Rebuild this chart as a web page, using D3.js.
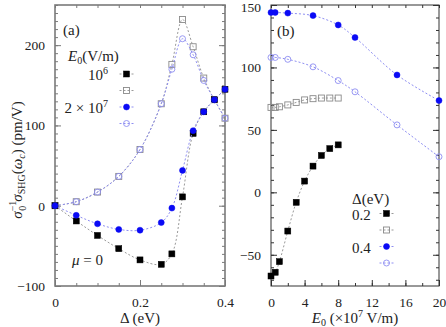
<!DOCTYPE html>
<html>
<head>
<meta charset="utf-8">
<script src="https://cdn.jsdelivr.net/npm/d3@7"></script>
<style>
  body { margin: 0; background: #fff; }
  text { font-family: "Liberation Serif", "DejaVu Serif", serif; fill: #222; }
</style>
</head>
<body>
<svg width="446" height="327"></svg>
<script>
// panel (a): vs gap Delta (eV)
const deltaA = [0, 0.05, 0.1, 0.15, 0.2, 0.25, 0.275, 0.3, 0.325, 0.35, 0.375, 0.4];
const e6Fill = [0, -19, -37, -53.5, -67.5, -73, -60, 11, 90, 117, 132, 145];
const e6Open = [0, 5, 17, 36.5, 70, 127, 176, 232, 198, 159, 132, 109];
const e7Fill = [0, -12, -22.5, -29.5, -30.5, -21, -3, 44, 93.5, 117, 132, 145];
const e7Open = [0, 5, 17, 36.5, 70, 127, 170, 208, 188, 156, 132, 109];

// panel (b): vs field E0 (x10^7 V/m)
const fieldB2 = [0, 0.5, 1, 2, 3, 4, 5, 6, 7, 8];
const d2Fill = [-67, -64, -55.5, -31, -8, 9, 21, 29.5, 35, 38];
const d2Open = [68, 68, 68.5, 70, 72, 74, 75, 75.5, 75.5, 75.5];
const fieldB4 = [0, 0.5, 2, 5, 8, 10, 15, 20];
const d4Fill = [144, 144, 143.5, 141.5, 134, 124, 94, 73.5];
const d4Open = [108, 108, 106.5, 100.5, 89.5, 80.5, 54, 28.5];

const ticksAx = [0, 0.2, 0.4];
const ticksAy = [-100, 0, 100, 200];
const ticksBx = [0, 4, 8, 12, 16, 20];
const ticksBy = [-50, 0, 50, 100, 150];

const svg = d3.select('svg');

const xa = d3.scaleLinear().domain([0, 0.4]).range([55, 225]);
const ya = d3.scaleLinear().domain([-100, 250]).range([286, 5]);
const xb = d3.scaleLinear().domain([0, 20]).range([271, 439]);
const yb = d3.scaleLinear().domain([-75, 150]).range([286, 5]);

const BLACK = '#000', GRAY = '#8a8a8a', BLUE = '#0a0af5', LBLUE = '#8e8ef2';
const fmt = d3.format('~g');

// frame with inward ticks on all four sides
const frame = (xs, ys, xMinor, xMajor, yMinor, yMajor, col, sw) => {
  const [x0, x1] = xs.range();
  const [y0, y1] = ys.range();
  const g = svg.append('g');
  const styl = (sel) => {
    sel.select('.domain').remove();
    sel.selectAll('line').attr('stroke', col).attr('stroke-width', 1);
    sel.selectAll('text').attr('font-size', 13.5).attr('fill', '#222');
  };
  // minor
  g.append('g').attr('transform', `translate(0,${y0})`)
    .call(d3.axisBottom(xs).tickValues(xMinor).tickSize(-3).tickFormat('')).call(styl);
  g.append('g').attr('transform', `translate(0,${y1})`)
    .call(d3.axisTop(xs).tickValues(xMinor).tickSize(-3).tickFormat('')).call(styl);
  g.append('g').attr('transform', `translate(${x0},0)`)
    .call(d3.axisLeft(ys).tickValues(yMinor).tickSize(-3).tickFormat('')).call(styl);
  g.append('g').attr('transform', `translate(${x1},0)`)
    .call(d3.axisRight(ys).tickValues(yMinor).tickSize(-3).tickFormat('')).call(styl);
  // major with labels
  g.append('g').attr('transform', `translate(0,${y0})`)
    .call(d3.axisBottom(xs).tickValues(xMajor).tickSize(-6).tickPadding(11).tickFormat(fmt)).call(styl);
  const ly = g.append('g').attr('transform', `translate(${x0},0)`)
    .call(d3.axisLeft(ys).tickValues(yMajor).tickSize(-6).tickPadding(10).tickFormat(fmt)).call(styl);
  // keep the top label inside the picture
  ly.selectAll('.tick').filter(d => ys(d) < 8).select('text').attr('dy', '0.5em');
  g.append('g').attr('transform', `translate(${x1},0)`)
    .call(d3.axisRight(ys).tickValues(yMajor).tickSize(-6).tickFormat('')).call(styl);
  g.append('rect').attr('x', x0).attr('y', y1).attr('width', x1 - x0).attr('height', y0 - y1)
    .attr('fill', 'none').attr('stroke', col).attr('stroke-width', sw);
};

frame(xa, ya, d3.range(0, 0.4001, 0.05), ticksAx, d3.range(-100, 251, 10), ticksAy, '#7a7a7a', 1.6);
frame(xb, yb, d3.range(0, 20.01, 2), ticksBx, d3.range(-70, 151, 10), ticksBy, '#333', 1);

const drawMarks = (sel, pts, kind, col) => {
  const g = sel.append('g');
  if (kind === 'sq' || kind === 'osq') {
    g.selectAll('rect').data(pts).join('rect')
      .attr('x', d => d[0] - 3).attr('y', d => d[1] - 3)
      .attr('width', 6).attr('height', 6)
      .attr('fill', kind === 'sq' ? col : 'none')
      .attr('stroke', col).attr('stroke-width', kind === 'sq' ? 0.5 : 0.9);
  } else {
    g.selectAll('circle').data(pts).join('circle')
      .attr('cx', d => d[0]).attr('cy', d => d[1]).attr('r', 3)
      .attr('fill', kind === 'ci' ? col : 'none')
      .attr('stroke', col).attr('stroke-width', kind === 'ci' ? 0.5 : 0.9);
  }
};

const series = (xs, ys, xv, yv, kind, col, lineCol) => {
  const pts = xv.map((x, i) => [xs(x), ys(yv[i])]);
  svg.append('path').attr('d', d3.line().curve(d3.curveCatmullRom.alpha(0.5))(pts))
    .attr('fill', 'none').attr('stroke', lineCol).attr('stroke-width', 1)
    .attr('stroke-dasharray', '2,2');
  drawMarks(svg, pts, kind, col);
};

// panel (a)
series(xa, ya, deltaA, e6Open, 'osq', GRAY, '#9a9a9a');
series(xa, ya, deltaA, e7Open, 'oci', LBLUE, LBLUE);
series(xa, ya, deltaA, e6Fill, 'sq', BLACK, '#9a9a9a');
series(xa, ya, deltaA, e7Fill, 'ci', BLUE, LBLUE);

// panel (b)
series(xb, yb, fieldB2, d2Open, 'osq', GRAY, '#9a9a9a');
series(xb, yb, fieldB4, d4Open, 'oci', LBLUE, LBLUE);
series(xb, yb, fieldB2, d2Fill, 'sq', BLACK, '#9a9a9a');
series(xb, yb, fieldB4, d4Fill, 'ci', BLUE, LBLUE);

// legends
const legend = (x, y0, kinds) => {
  kinds.forEach((k, i) => {
    const y = y0 + i * 16.5;
    svg.append('line').attr('x1', x - 7).attr('x2', x + 7).attr('y1', y).attr('y2', y)
      .attr('stroke', k[2]).attr('stroke-dasharray', '2,2').attr('stroke-width', 1);
    drawMarks(svg, [[x, y]], k[0], k[1]);
  });
};
const legKinds = [['sq', BLACK, '#9a9a9a'], ['osq', GRAY, '#9a9a9a'], ['ci', BLUE, LBLUE], ['oci', LBLUE, LBLUE]];
legend(126.5, 74, legKinds);
legend(386.5, 213.5, legKinds);

const txt = (x, y, anchor, size) => svg.append('text').attr('x', x).attr('y', y)
  .attr('text-anchor', anchor).attr('font-size', size);

txt(63, 35, 'start', 15).text('(a)');
txt(277, 36, 'start', 15).text('(b)');

let t = txt(68, 61, 'start', 15);
t.append('tspan').attr('font-style', 'italic').text('E');
t.append('tspan').attr('font-size', 10).attr('dy', 3).text('0');
t.append('tspan').attr('dy', -3).text('(V/m)');

t = txt(108, 80, 'end', 15);
t.append('tspan').text('10');
t.append('tspan').attr('font-size', 10).attr('dy', -6).text('6');

t = txt(108, 113, 'end', 15);
t.append('tspan').text('2 × 10');
t.append('tspan').attr('font-size', 10).attr('dy', -6).text('7');

t = txt(72, 265, 'start', 15);
t.append('tspan').attr('font-style', 'italic').text('μ');
t.append('tspan').text(' = 0');

txt(352, 204, 'start', 15).text('Δ(eV)');
txt(352, 220, 'start', 15).text('0.2');
txt(352, 253, 'start', 15).text('0.4');

// axis titles
txt(140, 323, 'middle', 15).text('Δ (eV)');
t = txt(355, 323, 'middle', 15);
t.append('tspan').attr('font-style', 'italic').text('E');
t.append('tspan').attr('font-size', 10).attr('dy', 3).text('0');
t.append('tspan').attr('dy', -3).text(' (×10');
t.append('tspan').attr('font-size', 10).attr('dy', -6).text('7');
t.append('tspan').attr('dy', 6).text(' V/m)');

t = svg.append('text').attr('transform', 'translate(22,160) rotate(-90)')
  .attr('text-anchor', 'middle').attr('font-size', 15);
t.append('tspan').attr('font-style', 'italic').text('σ');
t.append('tspan').attr('font-size', 10).attr('dy', -6).text('−1');
t.append('tspan').attr('font-size', 10).attr('dx', -10).attr('dy', 10).text('0');
t.append('tspan').attr('dy', -4).attr('dx', 4).attr('font-style', 'italic').text('σ');
t.append('tspan').attr('font-size', 10).attr('dy', 3).text('SHG');
t.append('tspan').attr('dy', -3).text('(');
t.append('tspan').attr('font-style', 'italic').text('ω');
t.append('tspan').attr('font-size', 10).attr('dy', 3).attr('font-style', 'italic').text('c');
t.append('tspan').attr('dy', -3).text(') (pm/V)');
</script>
</body>
</html>
